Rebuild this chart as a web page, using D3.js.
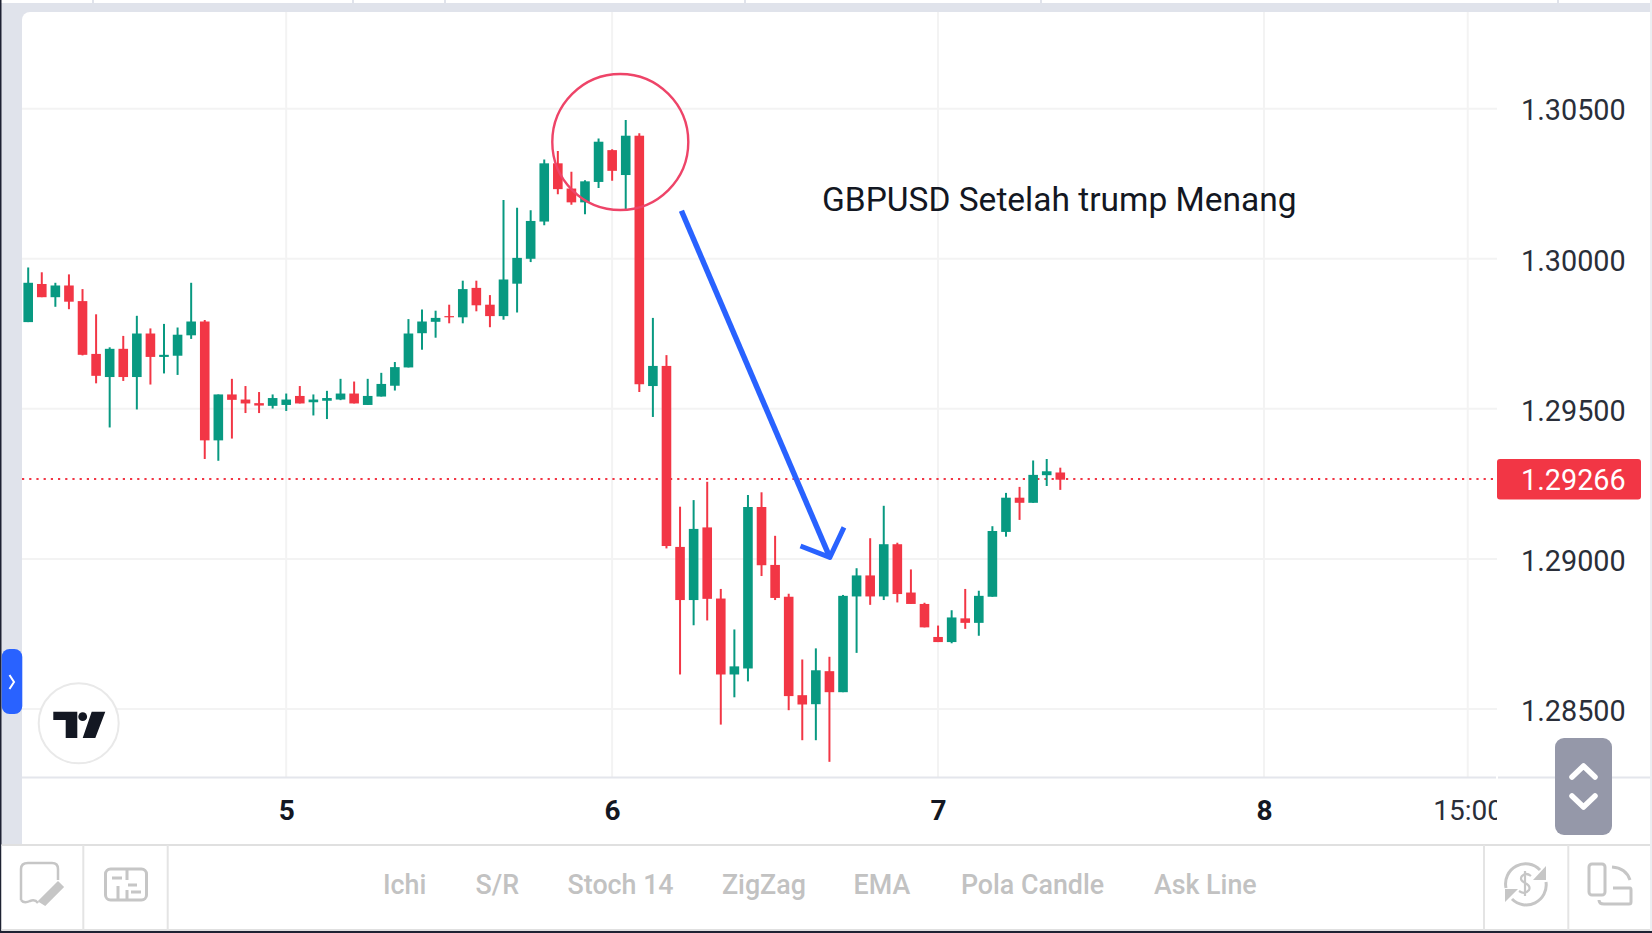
<!DOCTYPE html>
<html>
<head>
<meta charset="utf-8">
<script src="https://cdn.jsdelivr.net/npm/d3@7"></script>
<style>
  html, body { margin: 0; padding: 0; background: #fff; overflow: hidden; }
  svg { display: block; font-family: Roboto, sans-serif; }
</style>
</head>
<body>
<div id="chart"></div>
<script>
const opens = [1.29789,1.29916,1.29872,1.29911,1.29859,1.29683,1.29606,1.29700,1.29606,1.29751,
  1.29673,1.29677,1.29745,1.29791,1.29395,1.29548,1.29531,1.29519,1.29510,1.29513,
  1.29543,1.29522,1.29527,1.29531,1.29551,1.29513,1.29541,1.29577,1.29638,1.29752,
  1.29790,1.29809,1.29805,1.29903,1.29847,1.29809,1.29917,1.30000,1.30124,1.30318,
  1.30234,1.30188,1.30256,1.30362,1.30279,1.30410,1.29576,1.29643,1.29040,1.28863,
  1.29105,1.28868,1.28615,1.28635,1.29173,1.28980,1.28874,1.28546,1.28516,1.28626,
  1.28556,1.28875,1.28945,1.28875,1.29049,1.28888,1.28850,1.28740,1.28723,1.28802,
  1.28787,1.28874,1.29090,1.29204,1.29187,1.29279,1.29288];
const highs = [1.29971,1.29955,1.29920,1.29948,1.29899,1.29815,1.29705,1.29743,1.29810,1.29768,
  1.29783,1.29771,1.29920,1.29796,1.29548,1.29600,1.29576,1.29556,1.29548,1.29551,
  1.29576,1.29548,1.29560,1.29600,1.29591,1.29600,1.29620,1.29656,1.29799,1.29831,
  1.29827,1.29847,1.29927,1.29927,1.29879,1.30196,1.30170,1.30162,1.30331,1.30359,
  1.30290,1.30262,1.30401,1.30365,1.30462,1.30418,1.29803,1.29679,1.29174,1.29196,
  1.29257,1.28900,1.28765,1.29213,1.29222,1.29077,1.28884,1.28665,1.28702,1.28674,
  1.28880,1.28969,1.29069,1.29177,1.29054,1.28965,1.28854,1.28778,1.28829,1.28900,
  1.28894,1.29109,1.29220,1.29240,1.29328,1.29333,1.29304];
const lows = [1.29789,1.29872,1.29840,1.29832,1.29678,1.29585,1.29438,1.29593,1.29498,1.29581,
  1.29618,1.29613,1.29733,1.29333,1.29327,1.29401,1.29486,1.29486,1.29501,1.29493,
  1.29518,1.29478,1.29466,1.29529,1.29518,1.29513,1.29541,1.29561,1.29638,1.29697,
  1.29737,1.29785,1.29785,1.29825,1.29772,1.29797,1.29821,1.29989,1.30112,1.30215,
  1.30180,1.30148,1.30236,1.30260,1.30162,1.29556,1.29473,1.29035,1.28615,1.28779,
  1.28795,1.28448,1.28539,1.28592,1.28943,1.28863,1.28496,1.28396,1.28396,1.28324,
  1.28556,1.28687,1.28847,1.28863,1.28855,1.28850,1.28772,1.28723,1.28719,1.28767,
  1.28744,1.28874,1.29074,1.29130,1.29187,1.29243,1.29230];
const closes = [1.29920,1.29872,1.29911,1.29857,1.29680,1.29610,1.29700,1.29606,1.29751,1.29673,
  1.29680,1.29747,1.29791,1.29395,1.29548,1.29530,1.29518,1.29511,1.29536,1.29531,
  1.29518,1.29531,1.29536,1.29551,1.29518,1.29543,1.29583,1.29639,1.29751,1.29791,
  1.29803,1.29805,1.29899,1.29845,1.29809,1.29931,1.30003,1.30126,1.30318,1.30232,
  1.30188,1.30258,1.30390,1.30293,1.30410,1.29582,1.29643,1.29043,1.28863,1.29100,
  1.28867,1.28615,1.28642,1.29173,1.28979,1.28870,1.28543,1.28515,1.28629,1.28556,
  1.28877,1.28945,1.28875,1.29049,1.28883,1.28850,1.28772,1.28723,1.28805,1.28787,
  1.28877,1.29093,1.29204,1.29187,1.29280,1.29292,1.29264];

// bar index of each time tick
const timeTicks = [19, 43, 67, 91, 106];
const timeLabels = ['5', '6', '7', '8', '15:00'];
const priceTicks = [1.305, 1.30, 1.295, 1.29, 1.285];
const lastPrice = 1.29266;
const toolbarLabels = ['Ichi', 'S/R', 'Stoch 14', 'ZigZag', 'EMA', 'Pola Candle', 'Ask Line'];
const toolbarCenters = [404.6, 497.3, 620.6, 763.9, 881.9, 1032.5, 1205.3];
const noteText = 'GBPUSD Setelah trump Menang';

// drawn annotations, as [bar index, price]
const circleCenter = [43.6, 1.30389];
const arrowShaft = [[48.1, 1.3016], [59.03, 1.29005]];
const arrowHead = [[56.87, 1.29043], [59.03, 1.29005], [60.07, 1.29105]];

const width = 1652, height = 933;
const paneLeft = 22, paneRight = 1497, paneTop = 12, paneBottom = 777.5;
const toolbarTop = 845, toolbarBottom = 930;

const green = '#089981', red = '#f23645';

const x = d3.scaleLinear().domain([0, 106]).range([28.2, 1467.7]);
const y = d3.scaleLinear().domain([1.305, 1.285]).range([108.7, 709]);

const data = opens.map((o, i) => ({ i, o, h: highs[i], l: lows[i], c: closes[i] }));

const svg = d3.select('#chart').append('svg')
  .attr('width', width)
  .attr('height', height)
  .attr('viewBox', `0 0 ${width} ${height}`);

// page frame
svg.append('rect').attr('width', width).attr('height', height).attr('fill', '#fff');
svg.append('rect').attr('x', 0).attr('y', 3).attr('width', 1650).attr('height', toolbarTop - 3).attr('fill', '#e0e3eb');
svg.append('rect').attr('x', paneLeft).attr('y', paneTop).attr('width', 1650 - paneLeft + 8).attr('height', toolbarTop - paneTop + 8)
  .attr('rx', 8).attr('fill', '#fff');
svg.append('rect').attr('x', 0).attr('y', 0).attr('width', 1.5).attr('height', height).attr('fill', '#1e2233');
svg.append('rect').attr('x', 0).attr('y', 931).attr('width', width).attr('height', 2).attr('fill', '#1e2233');
svg.append('rect').attr('x', 1650).attr('y', 0).attr('width', 2).attr('height', 931).attr('fill', '#eceef2');

svg.selectAll('.top-sep')
  .data([92, 352, 444, 744, 1040, 1557])
  .enter().append('rect')
  .attr('x', d => d).attr('y', 0).attr('width', 2).attr('height', 3).attr('fill', '#e0e3eb');

svg.append('defs').append('clipPath').attr('id', 'pane')
  .append('rect').attr('x', paneLeft).attr('y', paneTop)
  .attr('width', paneRight - paneLeft).attr('height', paneBottom - paneTop);
svg.append('clipPath').attr('id', 'time-pane')
  .append('rect').attr('x', paneLeft).attr('y', paneBottom)
  .attr('width', paneRight - paneLeft).attr('height', toolbarTop - paneBottom);

// grid
const grid = svg.append('g').attr('clip-path', 'url(#pane)');
grid.selectAll('.gy').data(priceTicks).enter().append('line')
  .attr('x1', paneLeft).attr('x2', paneRight)
  .attr('y1', d => y(d)).attr('y2', d => y(d))
  .attr('stroke', '#f3f3f3').attr('stroke-width', 2);
grid.selectAll('.gx').data(timeTicks).enter().append('line')
  .attr('x1', d => x(d)).attr('x2', d => x(d))
  .attr('y1', paneTop).attr('y2', paneBottom)
  .attr('stroke', '#f3f3f3').attr('stroke-width', 2);

// axis borders
svg.append('line').attr('x1', paneLeft).attr('x2', paneRight - 1).attr('y1', paneBottom).attr('y2', paneBottom)
  .attr('stroke', '#e4e6ec').attr('stroke-width', 2);
svg.append('line').attr('x1', paneRight + 1).attr('x2', 1650).attr('y1', paneBottom).attr('y2', paneBottom)
  .attr('stroke', '#e4e6ec').attr('stroke-width', 2);

// last price line
svg.append('line')
  .attr('x1', paneLeft).attr('x2', 1494)
  .attr('y1', y(lastPrice)).attr('y2', y(lastPrice))
  .attr('stroke', red).attr('stroke-width', 2)
  .attr('stroke-dasharray', '2.2 5');

// candles
const candles = svg.append('g').attr('clip-path', 'url(#pane)');
candles.selectAll('.wick').data(data).enter().append('line')
  .attr('class', 'wick')
  .attr('x1', d => x(d.i)).attr('x2', d => x(d.i))
  .attr('y1', d => y(d.h)).attr('y2', d => y(d.l))
  .attr('stroke', d => d.c >= d.o ? green : red)
  .attr('stroke-width', 2);
candles.selectAll('.body').data(data).enter().append('rect')
  .attr('class', 'body')
  .attr('x', d => x(d.i) - 4.8)
  .attr('width', 9.6)
  .attr('y', d => y(Math.max(d.o, d.c)))
  .attr('height', d => Math.max(1, Math.abs(y(d.o) - y(d.c))))
  .attr('fill', d => d.c >= d.o ? green : red);

// annotations
svg.append('circle')
  .attr('cx', x(circleCenter[0])).attr('cy', y(circleCenter[1])).attr('r', 68)
  .attr('fill', 'none').attr('stroke', '#ee4468').attr('stroke-width', 2.4);
const pointLine = d3.line().x(d => x(d[0])).y(d => y(d[1]));
svg.append('path').attr('d', pointLine(arrowShaft))
  .attr('fill', 'none').attr('stroke', '#2962ff').attr('stroke-width', 5.5);
svg.append('path').attr('d', pointLine(arrowHead))
  .attr('fill', 'none').attr('stroke', '#2962ff').attr('stroke-width', 5).attr('stroke-linejoin', 'round');
svg.append('text')
  .attr('x', 822).attr('y', 211)
  .attr('font-size', 33.5).attr('fill', '#131722')
  .text(noteText);

// price axis
const yAxis = svg.append('g')
  .attr('transform', `translate(${paneRight},0)`)
  .call(d3.axisRight(y).tickValues(priceTicks).tickFormat(d3.format('.5f')).tickSize(0).tickPadding(24));
yAxis.select('.domain').remove();
yAxis.selectAll('text')
  .attr('font-family', 'Roboto, sans-serif')
  .attr('font-size', 28.8)
  .attr('fill', '#2a2e39')
  .attr('dy', '0.39em');

// last price tag
svg.append('rect')
  .attr('x', paneRight).attr('y', y(lastPrice) - 20).attr('width', 144).attr('height', 40.5)
  .attr('rx', 3).attr('fill', '#f23645');
svg.append('text')
  .attr('x', paneRight + 24).attr('y', y(lastPrice))
  .attr('dy', '0.39em')
  .attr('font-size', 28.8).attr('fill', '#fff')
  .text(d3.format('.5f')(lastPrice));

// time axis
const xAxis = svg.append('g')
  .attr('clip-path', 'url(#time-pane)')
  .append('g')
  .attr('transform', `translate(0,${paneBottom})`)
  .call(d3.axisBottom(x).tickValues(timeTicks).tickFormat((d, i) => timeLabels[i]).tickSize(0).tickPadding(23));
xAxis.select('.domain').remove();
xAxis.selectAll('text')
  .attr('font-family', 'Roboto, sans-serif')
  .attr('font-size', 28)
  .attr('font-weight', (d, i) => i < 4 ? 700 : 400)
  .attr('fill', (d, i) => i < 4 ? '#131722' : '#2a2e39');

// TradingView badge
const logo = svg.append('g').attr('transform', 'translate(0,620)');
logo.append('circle').attr('cx', 78.7).attr('cy', 103.3).attr('r', 40)
  .attr('fill', '#fff').attr('stroke', '#e9e9e9').attr('stroke-width', 2);
logo.append('path')
  .attr('d', 'M53.3 91.7H77.3V118H65.7V100H53.3Z M91.7 91.7H105.3L95.3 118H82.7Z')
  .attr('fill', '#131722');
logo.append('circle').attr('cx', 82.7).attr('cy', 96.7).attr('r', 4.4).attr('fill', '#131722');

// side handle
svg.append('rect').attr('x', 1.7).attr('y', 649).attr('width', 20.6).attr('height', 65).attr('rx', 8).attr('fill', '#2962ff');
svg.append('path').attr('d', 'M9.5 675L14 682L9.5 689')
  .attr('fill', 'none').attr('stroke', '#fff').attr('stroke-width', 2);

// scale handle
svg.append('rect').attr('x', 1555).attr('y', 738).attr('width', 57).attr('height', 97).attr('rx', 9).attr('fill', '#9598a9');
svg.selectAll('.chev')
  .data(['M1572 777L1583.5 766L1595 777', 'M1572 796L1583.5 807L1595 796'])
  .enter().append('path')
  .attr('d', d => d)
  .attr('fill', 'none').attr('stroke', '#fff').attr('stroke-width', 5.5)
  .attr('stroke-linecap', 'round').attr('stroke-linejoin', 'round');

// bottom toolbar
svg.append('rect').attr('x', 1.5).attr('y', toolbarTop).attr('width', 1648.5).attr('height', toolbarBottom - toolbarTop).attr('fill', '#fff');
svg.append('line').attr('x1', 1.5).attr('x2', 1650).attr('y1', toolbarTop).attr('y2', toolbarTop)
  .attr('stroke', '#e0e0e0').attr('stroke-width', 2);
svg.append('line').attr('x1', 1.5).attr('x2', 1650).attr('y1', toolbarBottom).attr('y2', toolbarBottom)
  .attr('stroke', '#e0e0e0').attr('stroke-width', 2);
svg.selectAll('.divider')
  .data([83.3, 167.7, 1484, 1568.3])
  .enter().append('line')
  .attr('x1', d => d).attr('x2', d => d)
  .attr('y1', toolbarTop).attr('y2', toolbarBottom)
  .attr('stroke', '#e4e4e4').attr('stroke-width', 2);
svg.selectAll('.tool')
  .data(toolbarLabels)
  .enter().append('text')
  .attr('x', (d, i) => toolbarCenters[i])
  .attr('y', 884)
  .attr('dy', '0.36em')
  .attr('text-anchor', 'middle')
  .attr('font-size', 26.8).attr('font-weight', 500).attr('fill', '#c2c2c2')
  .text(d => d);

// toolbar icons
const iconGray = '#c6c6c6';
const icons = svg.append('g').attr('fill', 'none').attr('stroke', iconGray).attr('stroke-width', 2.5);
icons.append('path').attr('d', 'M21 900V869Q21 863 28 863H52Q58 863 58 869V880M21 900Q24 904 30 901Q35 899 38 903');
icons.append('path').attr('d', 'M40 901L58 883L62 887L45 904Z').attr('fill', iconGray).attr('stroke-width', 3);
icons.append('rect').attr('x', 105.5).attr('y', 869).attr('width', 41).attr('height', 31).attr('rx', 5).attr('stroke-width', 3);
icons.append('path').attr('d', 'M127 869V880M127 890V900M118 886V900M112 878H122M128 885H137M131 892H141').attr('stroke-width', 3);
icons.append('path').attr('d', 'M1506 888A20 20 0 0 1 1540 870M1546 882A20 20 0 0 1 1512 899').attr('stroke-width', 3);
icons.append('path').attr('d', 'M1546 866V880H1533Z M1505 902V889H1518Z').attr('fill', iconGray).attr('stroke', 'none');
icons.append('path').attr('d', 'M1531 876Q1526 872 1522 876Q1519 880 1525 883Q1531 886 1529 890Q1525 895 1519 891M1525 871V896').attr('stroke-width', 2.2);
icons.append('rect').attr('x', 1589).attr('y', 864).attr('width', 16).attr('height', 31).attr('rx', 3).attr('stroke-width', 3);
icons.append('path').attr('d', 'M1612 867Q1626 868 1630 880M1613 888H1630Q1631 888 1631 890V902Q1631 904 1629 904H1604Q1599 904 1599 900').attr('stroke-width', 3);
</script>
</body>
</html>
